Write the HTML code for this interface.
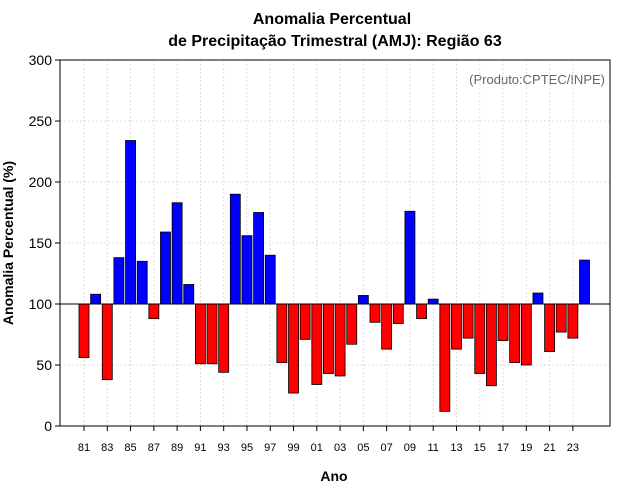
<!DOCTYPE html>
<html><head><meta charset="utf-8">
<style>
body{margin:0;background:#fff;}
svg{display:block;font-family:"Liberation Sans",sans-serif;}
</style></head>
<body>
<svg id="chart" width="640" height="500">
<rect width="640" height="500" fill="#fff"/>
<text x="332" y="24" text-anchor="middle" font-size="16" font-weight="bold">Anomalia Percentual</text>
<text x="335" y="46" text-anchor="middle" font-size="16" font-weight="bold">de Precipitação Trimestral (AMJ): Região 63</text>
<text x="334" y="481" text-anchor="middle" font-size="14" font-weight="bold">Ano</text>
<text transform="translate(13,243) rotate(-90)" text-anchor="middle" font-size="14" font-weight="bold">Anomalia Percentual (%)</text>
<text x="605" y="84" text-anchor="end" font-size="13" fill="#666">(Produto:CPTEC/INPE)</text>
<g id="grid"></g><g id="bars"></g><g id="axes"></g>
</svg>
<script>
const years=[81,82,83,84,85,86,87,88,89,90,91,92,93,94,95,96,97,98,99,0,1,2,3,4,5,6,7,8,9,10,11,12,13,14,15,16,17,18,19,20,21,22,23,24];
const values=[56,108,38,138,234,135,88,159,183,116,51,51,44,190,156,175,140,52,27,71,34,43,41,67,107,85,63,84,176,88,104,12,63,72,43,33,70,52,50,109,61,77,72,136];
const yTicks=[0,50,100,150,200,250,300];
const NS='http://www.w3.org/2000/svg';
const L=60,R=610,T=60,B=426;
const y=v=>B-(v/300)*(B-T);
const x=i=>84+i*11.64;
function mk(tag,attrs,parent,txt){const e=document.createElementNS(NS,tag);for(const k in attrs)e.setAttribute(k,attrs[k]);if(txt!==undefined)e.textContent=txt;document.getElementById(parent).appendChild(e);return e;}
yTicks.forEach(t=>{
 const g=mk('line',{x1:L,x2:R,y1:y(t),y2:y(t),stroke:'#ddd','stroke-dasharray':'2,2'},'grid');
 
 
 const tk=mk('line',{x1:L-5,x2:L,y1:y(t),y2:y(t),stroke:'#000'},'axes');
 
 
 const lb=mk('text',{x:L-8,y:y(t)+5,'text-anchor':'end','font-size':14},'axes',t);
 
 
});
years.forEach((yr,i)=>{
 if(i%2===0){
  const g=mk('line',{x1:x(i),x2:x(i),y1:T,y2:B,stroke:'#ddd','stroke-dasharray':'2,2'},'grid');
  
  
  const tk=mk('line',{x1:x(i),x2:x(i),y1:B,y2:B+5,stroke:'#000'},'axes');
  
  
  const lb=mk('text',{x:x(i),y:B+25,'text-anchor':'middle','font-size':11},'axes',String(yr).padStart(2,'0'));
  
  
 }
 const v=values[i];
 const top=Math.min(y(v),y(100)),h=Math.abs(y(v)-y(100));
 const b=mk('rect',{x:x(i)-5,y:top,width:10,height:h,fill:v>=100?'#0000ff':'#ff0000',stroke:'#000','stroke-width':0.8},'bars');
 
 
});
const bl=mk('line',{x1:L,x2:R,y1:y(100),y2:y(100),stroke:'#000'},'axes');


const fr=mk('rect',{x:L,y:T,width:R-L,height:B-T,fill:'none',stroke:'#000'},'axes');


</script>
</body></html>
